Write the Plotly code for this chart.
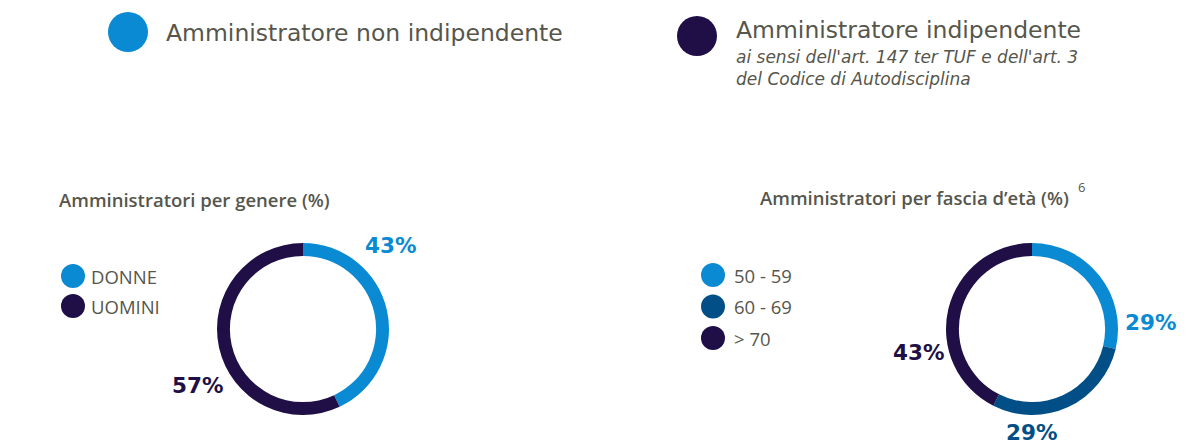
import plotly.graph_objects as go

W, H = 1198, 441
OFF = 8  # page body margin offset

# ---- data ----
gender_labels = ["DONNE", "UOMINI"]
gender_values = [43, 57]
age_labels = ["50 - 59", "60 - 69", "> 70"]
age_values = [29, 29, 43]
top_legend = ["Amministratore non indipendente", "Amministratore indipendente"]
top_legend_note = "ai sensi dell'art. 147 ter TUF e dell'art. 3<br>del Codice di Autodisciplina"
title_gender = "Amministratori per genere (%)"
title_age = "Amministratori per fascia d\u2019et\u00e0 (%)"
footnote_mark = "6"

LIGHT = "#0a8ad3"
MID = "#014f86"
NAVY = "#1f0f46"
GRAY = "#56564c"
gender_colors = [LIGHT, NAVY]
age_colors = [LIGHT, MID, NAVY]


def px(x):
    return (x - OFF) / W


def py(y):
    return 1 - (y - OFF) / H


fig = go.Figure()

fig.add_trace(go.Pie(
    labels=gender_labels, values=gender_values, hole=0.85, sort=False,
    direction="clockwise", rotation=0, textinfo="none", showlegend=False,
    marker=dict(colors=gender_colors, line=dict(width=0)),
    domain=dict(x=[px(217), px(389)], y=[py(415), py(243)]),
))
fig.add_trace(go.Pie(
    labels=age_labels, values=age_values, hole=0.85, sort=False,
    direction="clockwise", rotation=0, textinfo="none", showlegend=False,
    marker=dict(colors=age_colors, line=dict(width=0)),
    domain=dict(x=[px(946), px(1118)], y=[py(415), py(243)]),
))

shapes = []
ann = []


def circle(cx, cy, r, color):
    shapes.append(dict(type="circle", xref="paper", yref="paper",
                       x0=px(cx - r), x1=px(cx + r), y0=py(cy + r), y1=py(cy - r),
                       fillcolor=color, line=dict(width=0)))


def text(x, y, t, size, color, family="Lato", xanchor="left", weight="normal", style="normal"):
    ann.append(dict(x=px(x), y=py(y), xref="paper", yref="paper", text=t, showarrow=False,
                    xanchor=xanchor, yanchor="middle",
                    font=dict(size=size, color=color, family=family, weight=weight, style=style)))


# top legend
circle(128, 32, 20, LIGHT)
text(164, 33, top_legend[0], 23.5, GRAY, family="DejaVu Sans")
circle(697, 36, 20, NAVY)
text(734, 30, top_legend[1], 23.5, GRAY, family="DejaVu Sans")
ann.append(dict(x=px(734), y=py(45), xref="paper", yref="paper", text=top_legend_note,
                showarrow=False, xanchor="left", yanchor="top", align="left",
                font=dict(size=17, color=GRAY, family="DejaVu Sans", style="italic")))

# titles
text(57, 199, title_gender, 18.5, GRAY, family="Open Sans", weight=600)
text(758, 198, title_age, 18.5, GRAY, family="Open Sans", weight=600)
text(1076, 187, footnote_mark, 13, GRAY, family="Open Sans")

# side legends
for i, lab in enumerate(gender_labels):
    y = 276 + i * 30
    circle(73, y, 12, gender_colors[i])
    text(89, y, lab, 18.5, GRAY, family="Open Sans")
for i, lab in enumerate(age_labels):
    y = 275 + i * 31.5
    circle(713, y, 12, age_colors[i])
    text(732, y, lab, 18.5, GRAY, family="Open Sans")

# value labels
text(390, 245, f"{gender_values[0]}%", 21.5, LIGHT, family="DejaVu Sans", xanchor="center", weight="bold")
text(197, 385, f"{gender_values[1]}%", 21.5, NAVY, family="DejaVu Sans", xanchor="center", weight="bold")
text(1150, 322, f"{age_values[0]}%", 21.5, LIGHT, family="DejaVu Sans", xanchor="center", weight="bold")
text(1031, 432, f"{age_values[1]}%", 21.5, MID, family="DejaVu Sans", xanchor="center", weight="bold")
text(918, 352, f"{age_values[2]}%", 21.5, NAVY, family="DejaVu Sans", xanchor="center", weight="bold")

fig.update_layout(width=W, height=H, margin=dict(l=0, r=0, t=0, b=0),
                  paper_bgcolor="white", plot_bgcolor="white",
                  shapes=shapes, annotations=ann)

fig.write_html("out.html")
